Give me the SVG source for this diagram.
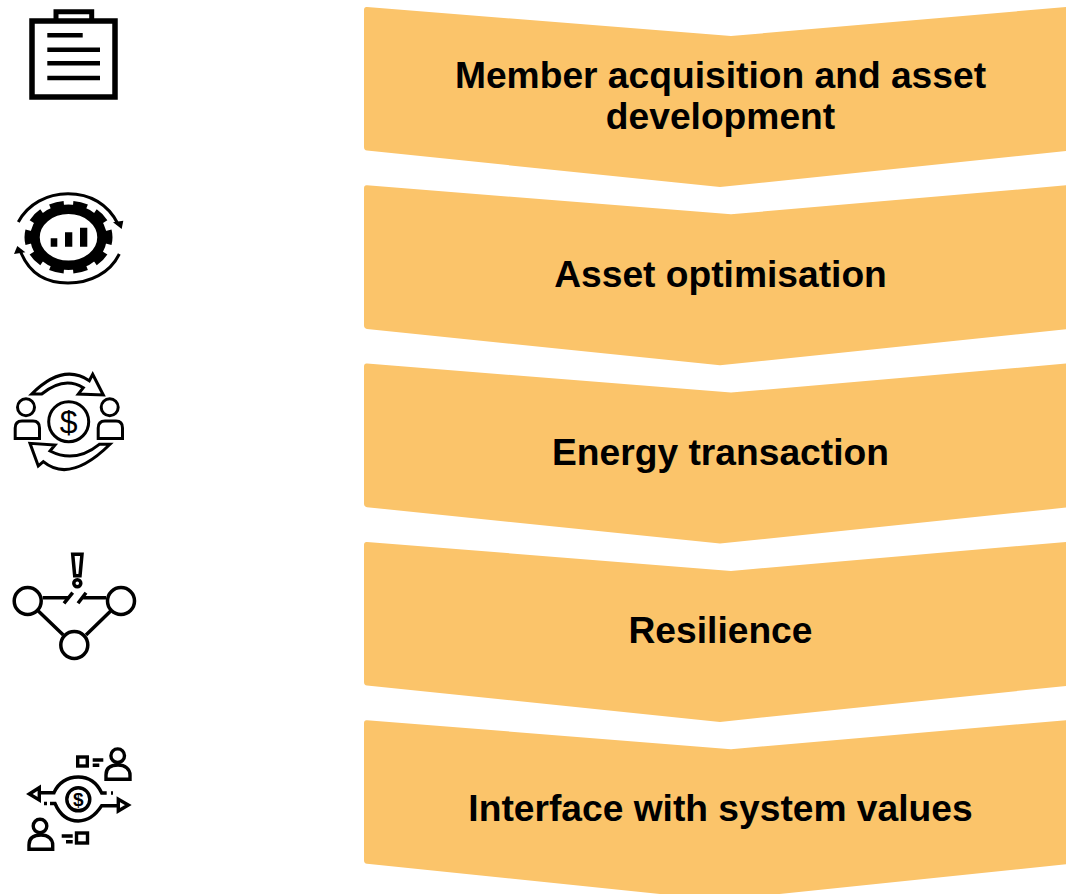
<svg xmlns="http://www.w3.org/2000/svg" width="1066" height="894" viewBox="0 0 1066 894">
<style>
.lbl{font-family:"Liberation Sans",Arial,sans-serif;font-weight:700;font-size:37.200px;fill:#000;text-anchor:middle}
.chev{fill:#fbc46a}
.ic{fill:none;stroke:#000;stroke-width:3;stroke-linecap:butt;stroke-linejoin:miter}
.k{fill:#000;stroke:none}
.usd{font-family:"Liberation Sans",Arial,sans-serif;fill:#000;stroke:none;text-anchor:middle}
</style>
<defs>
<path id="chevron" class="chev" d="M364 10Q364 6.700 367 7L731 36L1066 7V151L720 187L367 150.600Q364 150.300 364 147Z"/>
</defs>
<rect width="1066" height="894" fill="#fff"/>

<g id="step-1"><use href="#chevron"/><text class="lbl" x="720.500" y="88">Member acquisition and asset</text><text class="lbl" x="720.500" y="129">development</text></g>
<g id="step-2"><use href="#chevron" y="178.300"/><text class="lbl" x="720.500" y="287">Asset optimisation</text></g>
<g id="step-3"><use href="#chevron" y="356.600"/><text class="lbl" x="720.500" y="465">Energy transaction</text></g>
<g id="step-4"><use href="#chevron" y="534.900"/><text class="lbl" x="720.500" y="643">Resilience</text></g>
<g id="step-5"><use href="#chevron" y="713.200"/><text class="lbl" x="720.500" y="821">Interface with system values</text></g>

<g id="icon-clipboard" class="ic">
<rect x="32" y="21" width="83" height="76" stroke-width="5.500"/>
<path d="M56 21V11.700H91.700V21" stroke-width="5"/>
<path d="M47.300 35.300H82.700M47.300 49.700H100M47.300 63.300H100M47.300 78H100" stroke-width="4.500"/>
</g>

<g id="icon-gear">
<ellipse cx="68.500" cy="237.300" rx="40.500" ry="33" fill="none" stroke="#000" stroke-width="7" pathLength="100" stroke-dasharray="6 4" stroke-dashoffset="3"/>
<ellipse cx="68.500" cy="237.300" rx="33.500" ry="28" fill="none" stroke="#000" stroke-width="9.500"/>
<path class="k" d="M50.700 238.300h6.600v8.400h-6.600zM65 232.300h7.300v14.400H65zM80 227.700h7.300v19H80z"/>
<path class="ic" d="M18.300 222C28 204 47 193.800 68 193.800C90 193.800 108 204 118 224"/>
<path class="k" d="M113 222.300L123.300 220.700L121.700 229Z"/>
<path class="ic" d="M119.300 254C110 273 90 283 68 283C45 283 28 272 20 250"/>
<path class="k" d="M14 254L17.300 246L25.300 252.300Z"/>
</g>

<g id="icon-exchange" class="ic">
<circle cx="68.700" cy="421.700" r="20"/>
<text class="usd" x="68.700" y="433" font-size="32">$</text>
<circle cx="26" cy="407.300" r="8.500"/>
<path d="M15.200 438.500V428Q15.200 421 22 421H33Q39.500 421 39.500 428V438.500Z"/>
<circle cx="109.700" cy="407.300" r="8.500"/>
<path d="M98.200 438.500V428Q98.200 421 105 421H116Q122.500 421 122.500 428V438.500Z"/>
<path d="M31.700 394Q62.900 362.700 89.300 380.700L92.700 374.300L103.300 395L78.300 394L83.300 387.700Q64 375.800 41.700 394Z"/>
<path d="M110 444.300Q70 483.700 43.300 461.700L38.300 466L30 443.300L55 445L50 451Q75.300 463.700 99.300 444.300Z"/>
</g>

<g id="icon-network" class="ic" style="stroke-width:3.500">
<circle cx="27.700" cy="601" r="13.500"/>
<circle cx="121" cy="601" r="13.500"/>
<circle cx="74.300" cy="645" r="13.500"/>
<path d="M42.700 597.700H68.300M64 603.300L72.700 592.700M78 603.300L86 592.700M83.300 597.700H106M38.300 611L63.300 635M86 635L110.700 611"/>
<path d="M72.700 554.300H82L80 575.700H74.700Z"/>
<circle cx="77.300" cy="583.300" r="3.500"/>
</g>

<g id="icon-system" class="ic" style="stroke-width:3.400">
<circle cx="78.300" cy="799.300" r="11.500"/>
<text class="usd" x="78.300" y="806" font-size="19" font-weight="700">$</text>
<path d="M38.300 792.700H54C58 783 67 777 78.300 777C90 777 97 783 101.700 793H106.700M111 793H113"/>
<path d="M29.300 794L39.300 787.700V800Z"/>
<path d="M44 803.500H47M50 803.500H55C60 815 68 821 78.300 821C90 821 97 813 101.700 805.700H118.300"/>
<path d="M118.300 799.300L128.300 805L118.300 811Z"/>
<circle cx="117.700" cy="755.700" r="6.800"/>
<path d="M106 779.300V775C106 768 111 765 118 765C125 765 130 769 130 775V779.300Z"/>
<rect x="77.700" y="757" width="9.600" height="9"/>
<path d="M92.700 760H103.300M92.700 765.300H99.300"/>
<circle cx="40" cy="826" r="6.800"/>
<path d="M29 849.300V845C29 838 34 835 41 835C48 835 52.700 839 52.700 845V849.300Z"/>
<rect x="76.500" y="833" width="11" height="10"/>
<path d="M61.700 836H72.700M66 841.700H72.700"/>
</g>
</svg>
